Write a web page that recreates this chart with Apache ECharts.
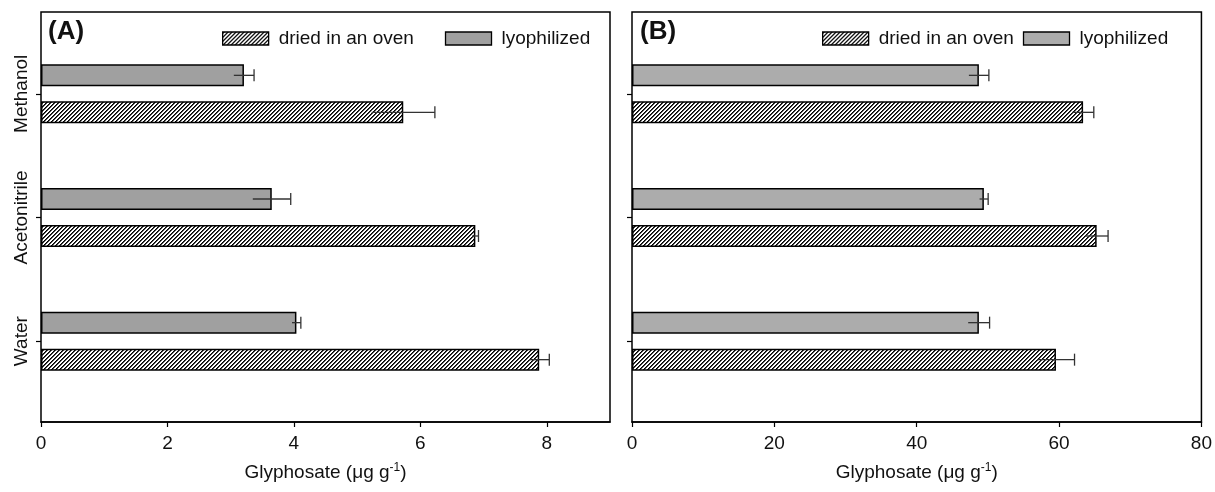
<!DOCTYPE html>
<html>
<head>
<meta charset="utf-8">
<script src="https://cdn.jsdelivr.net/npm/echarts@6/dist/echarts.min.js"></script>
<style>
  html, body { margin: 0; padding: 0; background: #fff; }
  #main { width: 1215px; height: 492px; }
</style>
</head>
<body>
<div id="main"></div>
<script>
// solvents, bottom to top as they sit on the axis
const categories = ['Water', 'Acetonitrile', 'Methanol'];
const seriesNames = ['dried in an oven', 'lyophilized'];

// panel A (µg g-1)
const ovenA = [7.88, 6.87, 5.73];
const ovenAErr = [0.16, 0.05, 0.50];
const lyoA = [4.04, 3.65, 3.21];
const lyoAErr = [0.07, 0.30, 0.16];

// panel B (µg g-1)
const ovenB = [59.4, 65.1, 63.2];
const ovenBErr = [2.6, 1.6, 1.5];
const lyoB = [48.6, 49.3, 48.6];
const lyoBErr = [1.5, 0.6, 1.4];

const xTicksA = { min: 0, max: 9, interval: 2 };
const xTicksB = { min: 0, max: 80, interval: 20 };

window.addEventListener('load', function () {
    const chart = echarts.init(document.getElementById('main'), null, { renderer: 'canvas' });
    const font = 'Liberation Sans, Arial, sans-serif';
    const barW = 22, barGapPx = 15;
    const half = (barW + barGapPx) / 2;

    // crisp "////" hatch, one pixel row at a time
    function hatch() {
        const s = 4;
        const c = document.createElement('canvas');
        c.width = s; c.height = s;
        const g = c.getContext('2d');
        g.fillStyle = '#fff';
        g.fillRect(0, 0, s, s);
        g.fillStyle = '#000';
        for (let y = 0; y < s; y++) {
            for (let x = 0; x < s; x++) {
                if ((x + y) % s === 0) g.fillRect(x, y, 1, 1);
                else if ((x + y) % s === 1) { g.fillStyle = '#444'; g.fillRect(x, y, 1, 1); g.fillStyle = '#000'; }
            }
        }
        return c;
    }
    const hatchFill = { image: hatch(), repeat: 'repeat' };

    function errData(vals, errs) {
        return vals.map((v, i) => [v, i, errs[i]]);
    }

    function errSeries(idx, vals, errs, shift) {
        return {
            type: 'custom',
            xAxisIndex: idx, yAxisIndex: idx,
            z: 5,
            silent: true,
            encode: { x: 0, y: 1 },
            data: errData(vals, errs),
            renderItem: function (params, api) {
                const v = api.value(0), c = api.value(1), e = api.value(2);
                const p0 = api.coord([v - e, c]);
                const p1 = api.coord([v + e, c]);
                const y = p0[1] + shift;
                const st = { stroke: '#333', lineWidth: 1.3 };
                return {
                    type: 'group',
                    children: [
                        { type: 'line', shape: { x1: p0[0], y1: y, x2: p1[0], y2: y }, style: st },
                        { type: 'line', shape: { x1: p1[0], y1: y - 6, x2: p1[0], y2: y + 6 }, style: st }
                    ]
                };
            }
        };
    }

    const axisName = 'Glyphosate (μg g{sup|-1})';
    const nameStyle = {
        fontFamily: font, fontSize: 19, color: '#111',
        rich: { sup: { fontFamily: font, fontSize: 12, color: '#111', verticalAlign: 'top', padding: [0, 0, 9, 0] } }
    };

    function frameX(gi, t) {
        return {
            gridIndex: gi, type: 'value', min: t.min, max: t.max, interval: t.interval,
            name: axisName, nameLocation: 'middle', nameGap: 40, nameTextStyle: nameStyle,
            axisLine: { show: true, lineStyle: { color: '#000', width: 1.5 } },
            axisTick: { show: true, length: 5, lineStyle: { color: '#000', width: 1.2 } },
            axisLabel: { fontFamily: font, fontSize: 19, color: '#111', margin: 12, showMaxLabel: t.max % t.interval === 0 },
            splitLine: { show: false }
        };
    }
    function hiddenX(gi, t) {
        return { gridIndex: gi, type: 'value', min: t.min, max: t.max, show: false, splitLine: { show: false } };
    }
    function catY(gi, showLabels) {
        return {
            gridIndex: gi, type: 'category', data: categories,
            axisLine: { show: false },
            axisTick: { show: true, alignWithLabel: true, length: 5, lineStyle: { color: '#000', width: 1.2 } },
            axisLabel: { show: showLabels, rotate: 90, fontFamily: font, fontSize: 19, color: '#111', margin: 10 }
        };
    }
    function legendItems(grey) {
        return [
            { name: seriesNames[0], itemStyle: { color: hatchFill, borderColor: '#000', borderWidth: 1.3 } },
            { name: seriesNames[1], itemStyle: { color: grey, borderColor: '#000', borderWidth: 1.3 } }
        ];
    }
    function bar(name, idx, fill, data) {
        return {
            name: name, type: 'bar', xAxisIndex: idx, yAxisIndex: idx,
            barWidth: barW, barGap: (barGapPx / barW * 100) + '%',
            itemStyle: { color: fill, borderColor: '#000', borderWidth: 1.5 },
            data: data
        };
    }

    const option = {
        backgroundColor: '#fff',
        animation: false,
        title: [
            { text: '(A)', left: 43, top: 14, textStyle: { fontFamily: font, fontSize: 26, fontWeight: 'bold', color: '#111' } },
            { text: '(B)', left: 635, top: 14, textStyle: { fontFamily: font, fontSize: 26, fontWeight: 'bold', color: '#111' } }
        ],
        legend: [
            {
                left: 217, top: 24, itemWidth: 46, itemHeight: 13, itemGap: 31,
                icon: 'rect',
                textStyle: { fontFamily: font, fontSize: 19, color: '#111', padding: [0, 0, 0, 5] },
                data: legendItems('#a0a0a0')
            },
            {
                left: 817, top: 24, itemWidth: 46, itemHeight: 13, itemGap: 9,
                icon: 'rect',
                textStyle: { fontFamily: font, fontSize: 19, color: '#111', padding: [0, 0, 0, 5] },
                data: legendItems('#acacac')
            }
        ],
        grid: [
            // frames
            { left: 41, right: 605, top: 12, bottom: 70, show: true, borderColor: '#000', borderWidth: 1.5, backgroundColor: 'transparent' },
            { left: 632, right: 12, top: 12, bottom: 70, show: true, borderColor: '#000', borderWidth: 1.5, backgroundColor: 'transparent' },
            // bar areas
            { left: 41, right: 605, top: 32, bottom: 89 },
            { left: 632, right: 12, top: 32, bottom: 89 }
        ],
        xAxis: [
            frameX(0, xTicksA),
            frameX(1, xTicksB),
            hiddenX(2, xTicksA),
            hiddenX(3, xTicksB)
        ],
        yAxis: [
            { gridIndex: 0, type: 'value', show: false, splitLine: { show: false } },
            { gridIndex: 1, type: 'value', show: false, splitLine: { show: false } },
            catY(2, true),
            catY(3, false)
        ],
        series: [
            // first series of a group sits on top in a horizontal bar chart
            bar(seriesNames[1], 2, '#a0a0a0', lyoA),
            bar(seriesNames[0], 2, hatchFill, ovenA),
            bar(seriesNames[1], 3, '#acacac', lyoB),
            bar(seriesNames[0], 3, hatchFill, ovenB),
            errSeries(2, lyoA, lyoAErr, -half),
            errSeries(2, ovenA, ovenAErr, half),
            errSeries(3, lyoB, lyoBErr, -half),
            errSeries(3, ovenB, ovenBErr, half)
        ]
    };

    chart.setOption(option);
});
</script>
</body>
</html>
